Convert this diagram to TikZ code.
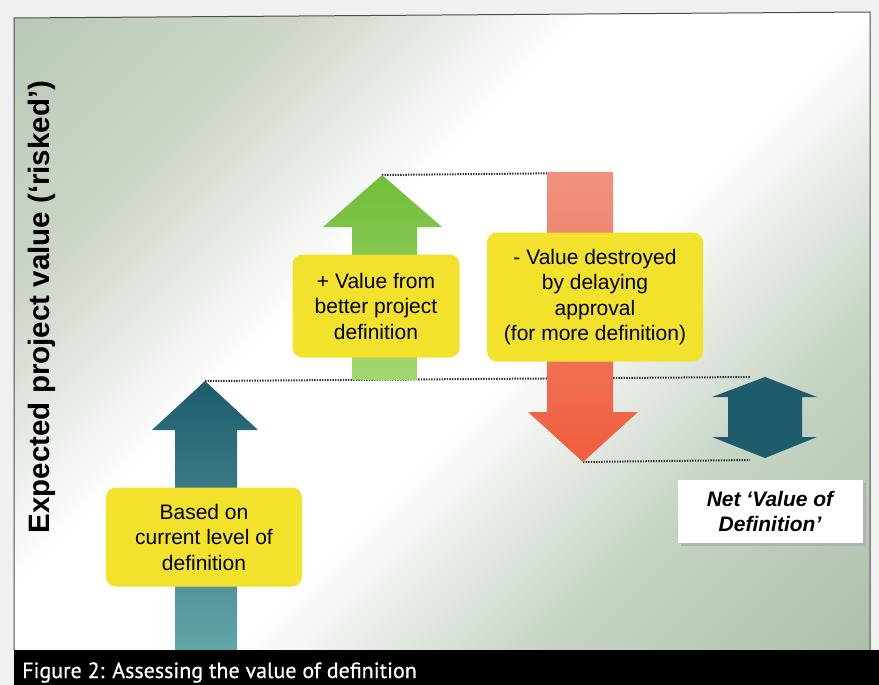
\documentclass[tikz,border=0pt]{standalone}
\usepackage{fontspec}
\setmainfont{Liberation Sans}
\newfontfamily\captionfont[FakeBold=0.6]{PT Sans}
\usetikzlibrary{positioning}

\definecolor{panelgreen}{RGB}{168,186,162}
\definecolor{panelgreenlow}{RGB}{150,176,146}
\definecolor{tealdark}{RGB}{30,92,108}
\definecolor{teallight}{RGB}{98,166,168}
\definecolor{greentop}{RGB}{112,190,58}
\definecolor{greenlow}{RGB}{164,214,112}
\definecolor{redtop}{RGB}{240,146,128}
\definecolor{redlow}{RGB}{240,94,60}
\definecolor{boxyellow}{RGB}{242,226,44}

% diagonal panel background: green corners, wide white band
\pgfdeclareverticalshading{panelshade}{100bp}{
  color(0bp)=(panelgreenlow); color(30bp)=(panelgreenlow!55!white);
  color(45bp)=(white); color(58bp)=(white);
  color(72bp)=(panelgreen!60!white); color(100bp)=(panelgreen)}

\tikzset{
  callout/.style={fill=boxyellow, rounded corners=10pt, align=center,
    font=\fontsize{21}{25.5}\selectfont, inner sep=0pt},
  netbox/.style={fill=white, align=center, inner sep=0pt,
    font=\bfseries\itshape\fontsize{21}{25}\selectfont},
  dotline/.style={black!80, line width=2pt, dash pattern=on 1.4pt off 1.2pt},
}

\begin{document}
\begin{tikzpicture}[x=1pt,y=-1pt]
  \useasboundingbox (0,0) rectangle (879,685);
  \fill[black!6] (0,0) rectangle (879,685);
  % panel
  \shade[shading=panelshade, shading angle=45]
    (14,18) -- (870,12) -- (870,650) -- (14,650) -- cycle;
  \draw[black!70, line width=1pt] (14,650) -- (14,18) -- (870,12) -- (870,650);

  \node[rotate=90, font=\bfseries\fontsize{29.5}{30}\selectfont] (axis) at (42,307)
    {Expected project value (‘risked’)};

  % levels
  \coordinate (basetip) at (205,381);
  \coordinate (gaintip) at (382,175);
  \coordinate (losstop) at (583,173);
  \coordinate (losstip) at (583,462);
  \coordinate (netup) at (750,377);
  \coordinate (netlow) at (750,460);
  \draw[dotline] (gaintip) -- (losstop);
  \draw[dotline] (basetip) -- (netup);
  \draw[dotline] (losstip) -- (netlow);

  % block arrows
  \shade[top color=tealdark, bottom color=teallight]
    (175,650) -- (175,430) -- (152,430) -- (basetip) -- (258,430) -- (237,430) -- (237,650) -- cycle;
  \shade[top color=greentop, bottom color=greenlow]
    (352,380) -- (352,227) -- (323,227) -- (gaintip) -- (442,227) -- (417,227) -- (417,380) -- cycle;
  \shade[top color=redtop, bottom color=redlow]
    (547,172) -- (547,412) -- (528,412) -- (losstip) -- (638,412) -- (613,412) -- (613,172) -- cycle;
  \fill[tealdark]
    (765,377) -- (817,397) -- (802,397) -- (802,437) -- (817,437) -- (765,458)
    -- (712,437) -- (728,437) -- (728,397) -- (712,397) -- cycle;

  % labels
  \node[callout, minimum width=196pt, minimum height=99pt] (base) at (204,537)
    {Based on\\current level of\\definition};
  \node[callout, minimum width=167pt, minimum height=103pt] (gain) at (376,306)
    {+ Value from\\better project\\definition};
  \node[callout, minimum width=216pt, minimum height=129pt] (loss) at (595,297)
    {- Value destroyed\\by delaying\\approval\\(for more definition)};
  \fill[black!30] (681,483) rectangle (866,546);
  \node[netbox, minimum width=185pt, minimum height=63pt] (net) at (770,511)
    {Net ‘Value of\\Definition’};

  % caption
  \fill[black] (14,650) rectangle (879,685);
  \node[anchor=base west, text=white, inner sep=0pt,
    font=\captionfont\fontsize{22}{22}\selectfont] (caption) at (22,678)
    {Figure 2: Assessing the value of definition};
\end{tikzpicture}
\end{document}
